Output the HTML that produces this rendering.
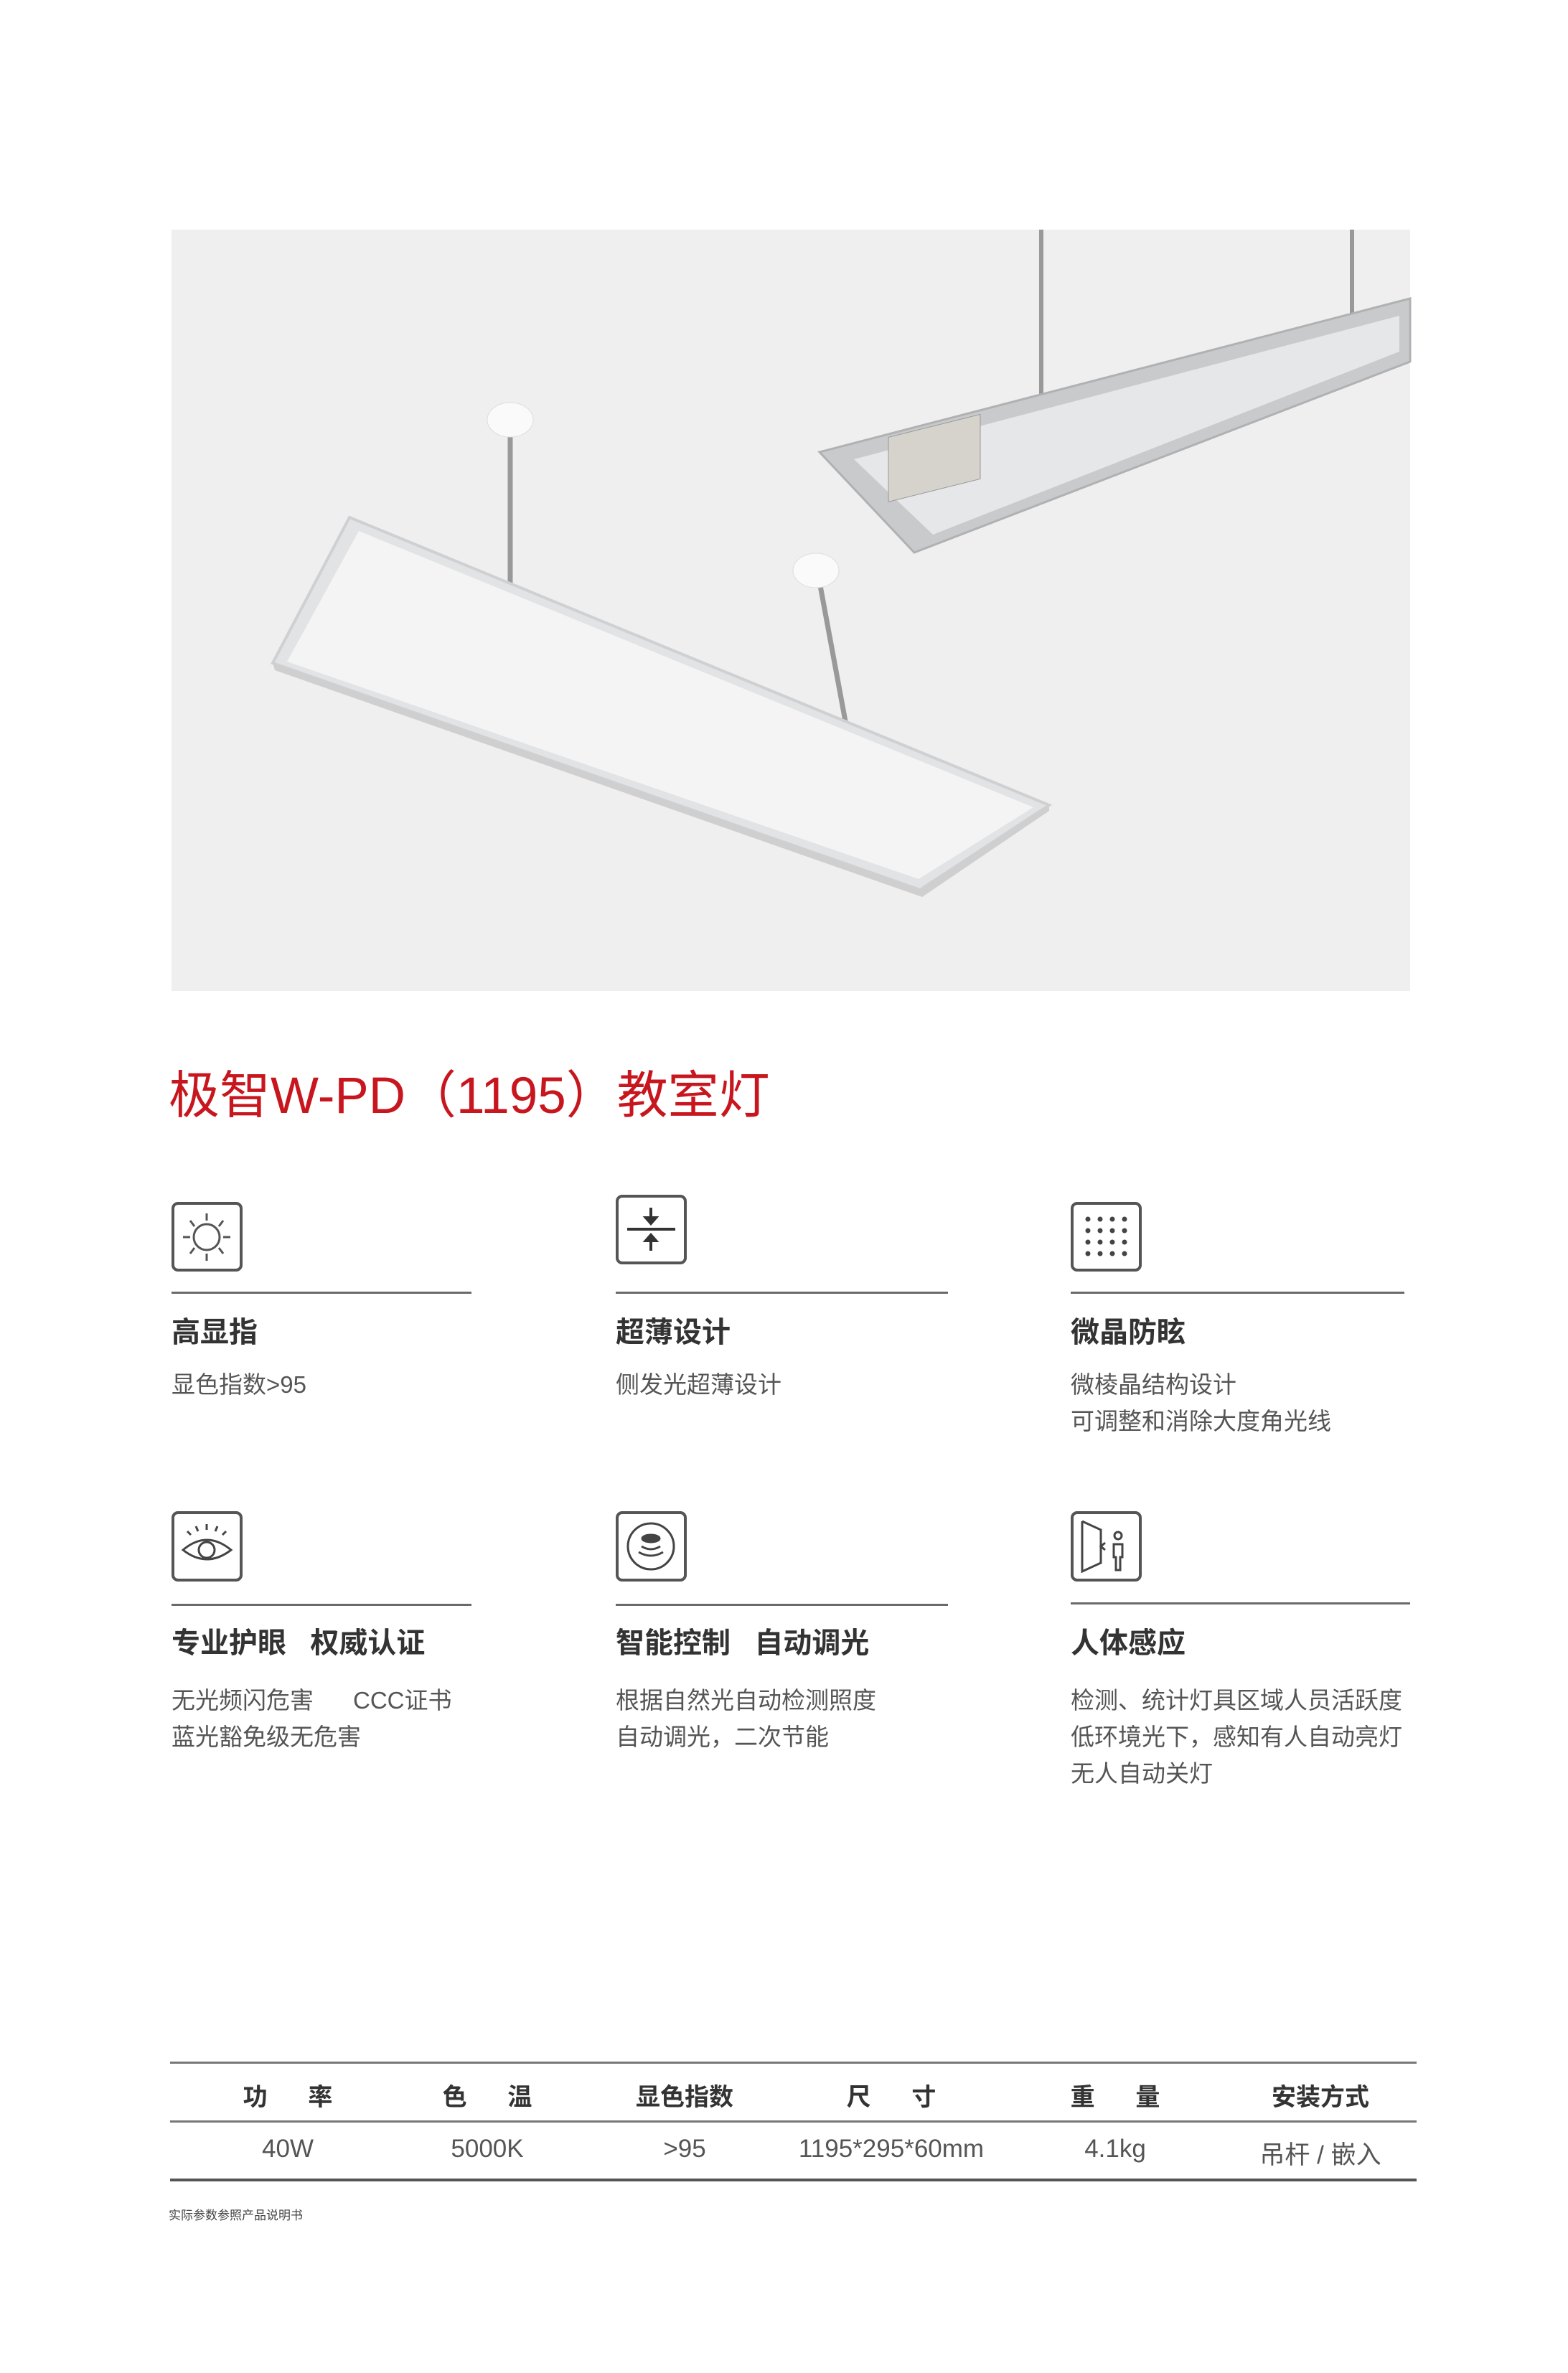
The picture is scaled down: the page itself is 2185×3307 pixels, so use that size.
<!DOCTYPE html>
<html><head><meta charset="utf-8">
<style>
html,body{margin:0;padding:0;background:#fff;}
body{width:2185px;height:3307px;position:relative;overflow:hidden;font-family:"Liberation Sans","Noto Sans CJK SC",sans-serif;}
.a{position:absolute;white-space:nowrap;}
.title{left:235px;top:1480px;font-size:71px;color:#c8161e;line-height:96px;}
.h{font-size:40px;font-weight:bold;color:#333;line-height:48px;}
.d{font-size:33px;color:#555;line-height:51px;}
.ln{position:absolute;height:3px;background:#6a6a6a;}
.icon{position:absolute;border:4px solid #555;border-radius:9px;box-sizing:border-box;}
.th{font-size:34px;font-weight:bold;color:#333;transform:translateX(-50%);}
.td{font-size:35px;color:#555;transform:translateX(-50%);}
</style></head><body>
<svg class="a" style="left:0;top:0" width="2185" height="1400">
<rect x="239" y="320" width="1726" height="1061" fill="#efefef"/>
<line x1="711" y1="600" x2="711" y2="880" stroke="#999" stroke-width="7"/>
<ellipse cx="711" cy="585" rx="32" ry="24" fill="#fafafa" stroke="#ddd"/>
<line x1="1140" y1="800" x2="1178" y2="1005" stroke="#999" stroke-width="7"/>
<ellipse cx="1137" cy="795" rx="32" ry="24" fill="#fafafa" stroke="#ddd"/>
<polygon points="487,721 1462,1122 1282,1240 380,924" fill="#e2e3e4" stroke="#cfd0d2" stroke-width="4"/>
<polygon points="500,740 1440,1125 1280,1225 400,922" fill="#f4f4f4"/>
<polygon points="1282,1240 380,924 383,934 1285,1250 1462,1130 1462,1122" fill="#cfcfd0"/>
<line x1="1451" y1="320" x2="1451" y2="560" stroke="#999" stroke-width="6"/>
<line x1="1884" y1="320" x2="1884" y2="460" stroke="#999" stroke-width="6"/>
<polygon points="1142,630 1965,416 1965,504 1274,770" fill="#c9cacc" stroke="#b0b1b3" stroke-width="3"/>
<polygon points="1190,640 1950,440 1950,490 1300,745" fill="#e6e7e8"/>
<rect x="1238" y="598" width="128" height="90" fill="#d6d2cc" stroke="#999" transform="skewY(-14) translate(0,320)"/>
</svg>

<div class="a title">极智W-PD（1195）教室灯</div>

<div class="icon" style="left:239px;top:1675px;width:99px;height:97px;">
<svg width="91" height="89" viewBox="0 0 91 89"><g stroke="#555" stroke-width="3" fill="none"><circle cx="45" cy="45" r="18"/><line x1="45" y1="12" x2="45" y2="22"/><line x1="45" y1="68" x2="45" y2="78"/><line x1="12" y1="45" x2="22" y2="45"/><line x1="68" y1="45" x2="78" y2="45"/><line x1="22" y1="22" x2="28" y2="30"/><line x1="68" y1="22" x2="62" y2="30"/><line x1="22" y1="68" x2="28" y2="60"/><line x1="68" y1="68" x2="62" y2="60"/></g></svg></div>
<div class="icon" style="left:858px;top:1665px;width:99px;height:97px;">
<svg width="91" height="89" viewBox="0 0 91 89"><g stroke="#333" stroke-width="4" fill="#333"><line x1="12" y1="44" x2="79" y2="44"/><line x1="45" y1="14" x2="45" y2="34"/><polygon points="38,28 52,28 45,36"/><line x1="45" y1="55" x2="45" y2="74"/><polygon points="38,60 52,60 45,52"/></g></svg></div>
<div class="icon" style="left:1492px;top:1675px;width:99px;height:97px;">
<svg width="91" height="89" viewBox="0 0 91 89"><g fill="#444">
<circle cx="20" cy="20" r="3.5"/><circle cx="37" cy="20" r="3.5"/><circle cx="54" cy="20" r="3.5"/><circle cx="71" cy="20" r="3.5"/>
<circle cx="20" cy="36" r="3.5"/><circle cx="37" cy="36" r="3.5"/><circle cx="54" cy="36" r="3.5"/><circle cx="71" cy="36" r="3.5"/>
<circle cx="20" cy="52" r="3.5"/><circle cx="37" cy="52" r="3.5"/><circle cx="54" cy="52" r="3.5"/><circle cx="71" cy="52" r="3.5"/>
<circle cx="20" cy="68" r="3.5"/><circle cx="37" cy="68" r="3.5"/><circle cx="54" cy="68" r="3.5"/><circle cx="71" cy="68" r="3.5"/></g></svg></div>

<div class="ln" style="left:239px;top:1800px;width:418px;"></div>
<div class="ln" style="left:858px;top:1800px;width:463px;"></div>
<div class="ln" style="left:1492px;top:1800px;width:465px;"></div>

<div class="a h" style="left:239px;top:1833px;">高显指</div>
<div class="a h" style="left:858px;top:1833px;">超薄设计</div>
<div class="a h" style="left:1492px;top:1833px;">微晶防眩</div>
<div class="a d" style="left:239px;top:1904px;">显色指数&gt;95</div>
<div class="a d" style="left:858px;top:1904px;">侧发光超薄设计</div>
<div class="a d" style="left:1492px;top:1904px;">微棱晶结构设计<br>可调整和消除大度角光线</div>

<div class="icon" style="left:239px;top:2106px;width:99px;height:98px;">
<svg width="91" height="90" viewBox="0 0 91 90"><g stroke="#444" stroke-width="3" fill="none"><path d="M12 50 Q45 22 79 50 Q45 76 12 50Z"/><circle cx="45" cy="50" r="11"/><line x1="45" y1="14" x2="45" y2="22"/><line x1="30" y1="17" x2="33" y2="24"/><line x1="60" y1="17" x2="57" y2="24"/><line x1="18" y1="24" x2="23" y2="29"/><line x1="72" y1="24" x2="67" y2="29"/></g></svg></div>
<div class="icon" style="left:858px;top:2106px;width:99px;height:98px;">
<svg width="91" height="90" viewBox="0 0 91 90"><g stroke="#444" stroke-width="3" fill="none"><circle cx="45" cy="45" r="32"/><ellipse cx="45" cy="34" rx="12" ry="5" fill="#444"/><path d="M32 45 Q45 53 58 45"/><path d="M28 53 Q45 63 62 53"/></g></svg></div>
<div class="icon" style="left:1492px;top:2106px;width:99px;height:98px;">
<svg width="91" height="90" viewBox="0 0 91 90"><g stroke="#444" stroke-width="3" fill="none"><polyline points="12,10 12,80 38,68 38,22 12,10"/><circle cx="62" cy="30" r="5"/><path d="M56 42 H68 V60 H65 V78 H59 V60 H56Z"/><polyline points="44,50 38,45 44,40"/></g></svg></div>

<div class="ln" style="left:239px;top:2235px;width:418px;"></div>
<div class="ln" style="left:858px;top:2235px;width:463px;"></div>
<div class="ln" style="left:1492px;top:2233px;width:473px;"></div>

<div class="a h" style="left:239px;top:2266px;">专业护眼&nbsp;&nbsp;&nbsp;权威认证</div>
<div class="a h" style="left:858px;top:2266px;">智能控制&nbsp;&nbsp;&nbsp;自动调光</div>
<div class="a h" style="left:1492px;top:2266px;">人体感应</div>
<div class="a d" style="left:239px;top:2344px;">无光频闪危害&nbsp;&nbsp;&nbsp;&nbsp;&nbsp;&nbsp;CCC证书<br>蓝光豁免级无危害</div>
<div class="a d" style="left:858px;top:2344px;">根据自然光自动检测照度<br>自动调光，二次节能</div>
<div class="a d" style="left:1492px;top:2344px;">检测、统计灯具区域人员活跃度<br>低环境光下，感知有人自动亮灯<br>无人自动关灯</div>

<div class="ln" style="left:237px;top:2873px;width:1737px;height:3px;background:#777;"></div>
<div class="ln" style="left:237px;top:2955px;width:1737px;height:3px;background:#777;"></div>
<div class="ln" style="left:237px;top:3036px;width:1737px;height:4px;background:#555;"></div>
<div class="a th" style="left:401px;top:2895px;">功&nbsp;&nbsp;&nbsp;&nbsp;&nbsp;&nbsp;率</div>
<div class="a th" style="left:679px;top:2895px;">色&nbsp;&nbsp;&nbsp;&nbsp;&nbsp;&nbsp;温</div>
<div class="a th" style="left:954px;top:2895px;">显色指数</div>
<div class="a th" style="left:1242px;top:2895px;">尺&nbsp;&nbsp;&nbsp;&nbsp;&nbsp;&nbsp;寸</div>
<div class="a th" style="left:1554px;top:2895px;">重&nbsp;&nbsp;&nbsp;&nbsp;&nbsp;&nbsp;量</div>
<div class="a th" style="left:1840px;top:2895px;">安装方式</div>
<div class="a td" style="left:401px;top:2975px;">40W</div>
<div class="a td" style="left:679px;top:2975px;">5000K</div>
<div class="a td" style="left:954px;top:2975px;">&gt;95</div>
<div class="a td" style="left:1242px;top:2975px;">1195*295*60mm</div>
<div class="a td" style="left:1554px;top:2975px;">4.1kg</div>
<div class="a td" style="left:1840px;top:2975px;">吊杆 / 嵌入</div>
<div class="a" style="left:235px;top:3073px;font-size:17px;color:#444;">实际参数参照产品说明书</div>
</body></html>
